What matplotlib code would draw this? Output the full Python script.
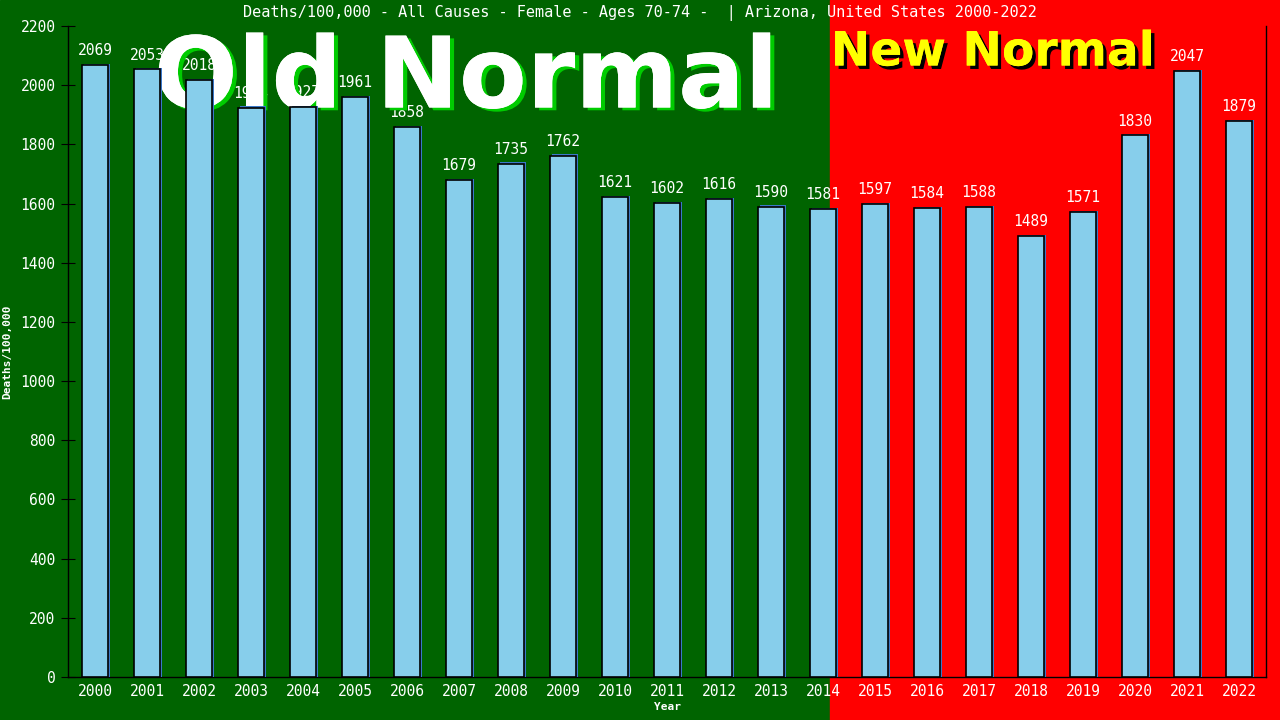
import numpy as np
import matplotlib.pyplot as plt
from matplotlib.patches import Rectangle
import matplotlib.patheffects as pe

years = [str(y) for y in range(2000, 2023)]
deaths = [2069, 2053, 2018, 1924, 1927, 1961, 1858, 1679, 1735, 1762, 1621, 1602,
          1616, 1590, 1581, 1597, 1584, 1588, 1489, 1571, 1830, 2047, 1879]
title = 'Deaths/100,000 - All Causes - Female - Ages 70-74 -  | Arizona, United States 2000-2022'

mono = 'DejaVu Sans Mono'

fig = plt.figure(figsize=(12.8, 7.2), dpi=100)
fig.patches.append(Rectangle((0, 0), 830 / 1280, 1, transform=fig.transFigure,
                             color='#006400', zorder=-10))
fig.patches.append(Rectangle((830 / 1280, 0), 1 - 830 / 1280, 1, transform=fig.transFigure,
                             color='#ff0000', zorder=-10))

ax = fig.add_axes([68 / 1280, 43 / 720, 1198 / 1280, 651 / 720])
ax.patch.set_visible(False)

x = np.arange(len(years))
# thin blue shadow behind each bar
ax.bar(x + 0.035, np.array(deaths) + 4, width=0.5, color='#3a78c8', zorder=3)
ax.bar(x, deaths, width=0.5, color='#87ceeb', edgecolor='black', linewidth=1.2, zorder=4)

# value labels sit under the big captions, as in the original
for xi, v in zip(x, deaths):
    ax.annotate(str(v), (xi, v), xytext=(0, 5), textcoords='offset points',
                ha='center', va='bottom', color='white', fontsize=10.5,
                family=mono, zorder=1)

ax.text(466 / 1280, 1 - 80 / 720, 'Old Normal', transform=fig.transFigure,
        ha='center', va='center', fontsize=71, fontweight='bold', color='white',
        family='DejaVu Sans', zorder=2,
        path_effects=[pe.withSimplePatchShadow(offset=(3, -2), shadow_rgbFace='#00cc00', alpha=1),
                      pe.Normal()])
ax.text(993 / 1280, 1 - 53 / 720, 'New Normal', transform=fig.transFigure,
        ha='center', va='center', fontsize=34, fontweight='bold', color='#ffff00',
        family='DejaVu Sans', zorder=2,
        path_effects=[pe.withSimplePatchShadow(offset=(2.5, -2.5), shadow_rgbFace='black', alpha=1),
                      pe.Normal()])

ax.set_xlim(-0.52, 22.52)
ax.set_ylim(0, 2200)
ax.set_xticks(x)
ax.set_xticklabels(years)
ax.set_yticks(range(0, 2201, 200))
ax.tick_params(axis='x', length=0, pad=5, colors='white', labelsize=10.5)
ax.tick_params(axis='y', direction='inout', length=10, color='black',
               labelcolor='white', labelsize=10.5, pad=4)
for lab in ax.get_xticklabels() + ax.get_yticklabels():
    lab.set_family(mono)

ax.spines['top'].set_visible(False)
for s in ['left', 'right', 'bottom']:
    ax.spines[s].set_color('black')
    ax.spines[s].set_linewidth(1)

ax.set_xlabel('Year', color='white', fontsize=8, fontweight='bold', family=mono, labelpad=2)
ax.set_ylabel('Deaths/100,000', color='white', fontsize=8, fontweight='bold', family=mono,
              labelpad=6)
fig.text(0.5, 1 - 13 / 720, title, ha='center', va='center', color='white',
         fontsize=11, family=mono)

fig.savefig('out.png', dpi=100)
